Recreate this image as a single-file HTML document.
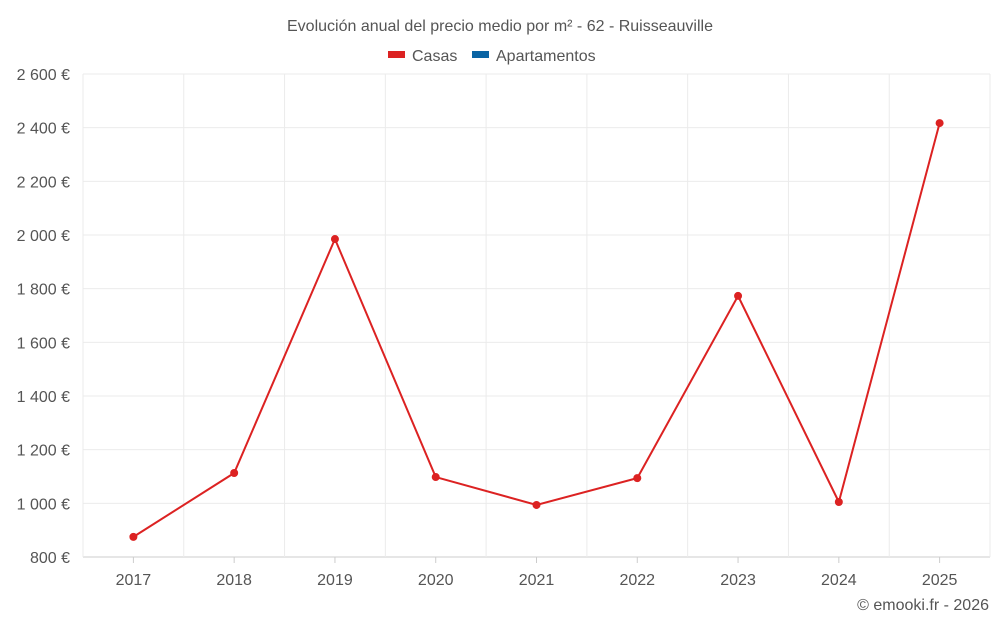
<!DOCTYPE html>
<html><head><meta charset="utf-8">
<style>
body{margin:0;background:#fff;font-family:"Liberation Sans",sans-serif;}
svg text{font-family:"Liberation Sans",sans-serif;}
</style></head>
<body>
<svg id="chart" width="1000" height="625" viewBox="0 0 1000 625" xmlns="http://www.w3.org/2000/svg">
<text x="500" y="31" text-anchor="middle" font-size="16" fill="#555">Evolución anual del precio medio por m² - 62 - Ruisseauville</text>
<g>
<g><rect x="388" y="51" width="17" height="7" fill="#dc2222"/><text x="412" y="61" font-size="16" fill="#555">Casas</text></g>
<g><rect x="472" y="51" width="17" height="7" fill="#0a64a4"/><text x="496" y="61" font-size="16" fill="#555">Apartamentos</text></g>
</g>
<g id="grid"></g>
<g id="axes"></g>
<g id="series"></g>
<text x="989" y="610" text-anchor="end" font-size="16" fill="#555">© emooki.fr - 2026</text>
</svg>
<script>
const categories=["2017","2018","2019","2020","2021","2022","2023","2024","2025"];
const casasValues=[875,1113,1985,1098,994,1094,1773,1005,2417];
const yTicks=[800,1000,1200,1400,1600,1800,2000,2200,2400,2600];
const yTickLabels=["800 €","1 000 €","1 200 €","1 400 €","1 600 €","1 800 €","2 000 €","2 200 €","2 400 €","2 600 €"];
const L=83,R=990,T=74,B=557,yMin=800,yMax=2600;
const ns="http://www.w3.org/2000/svg";
const bw=(R-L)/categories.length;
function x(i){return L+bw*(i+0.5);}
function y(v){return B-(v-yMin)/(yMax-yMin)*(B-T);}
function mk(tag,attrs,parent){const e=document.createElementNS(ns,tag);for(const k in attrs)e.setAttribute(k,attrs[k]);parent.appendChild(e);return e;}
const grid=document.getElementById('grid'),axes=document.getElementById('axes'),series=document.getElementById('series');
yTicks.forEach((t,i)=>{
 const ln=mk('line',{x1:L,x2:R,y1:y(t),y2:y(t),stroke:i===0?'#ccc':'#ebebeb','stroke-width':1},grid);
 
 
 const tx=mk('text',{x:70,y:y(t)+6,'text-anchor':'end','font-size':16,fill:'#555'},axes);
 tx.textContent=yTickLabels[i];
 
 
});
for(let i=0;i<=categories.length;i++){
 const ln=mk('line',{x1:L+bw*i,x2:L+bw*i,y1:T,y2:B,stroke:'#ebebeb','stroke-width':1},grid);
 
 
}
categories.forEach((c,i)=>{
 const tk=mk('line',{x1:x(i),x2:x(i),y1:B,y2:B+6,stroke:'#ccc'},axes);
 
 
 const tx=mk('text',{x:x(i),y:585,'text-anchor':'middle','font-size':16,fill:'#555'},axes);
 tx.textContent=c;
 
 
});
const pl=mk('polyline',{points:casasValues.map((v,i)=>x(i)+','+y(v)).join(' '),fill:'none',stroke:'#dc2222','stroke-width':2},series);


casasValues.forEach((v,i)=>{
 const c=mk('circle',{cx:x(i),cy:y(v),r:4,fill:'#dc2222'},series);
 
 
});
</script>
</body></html>
